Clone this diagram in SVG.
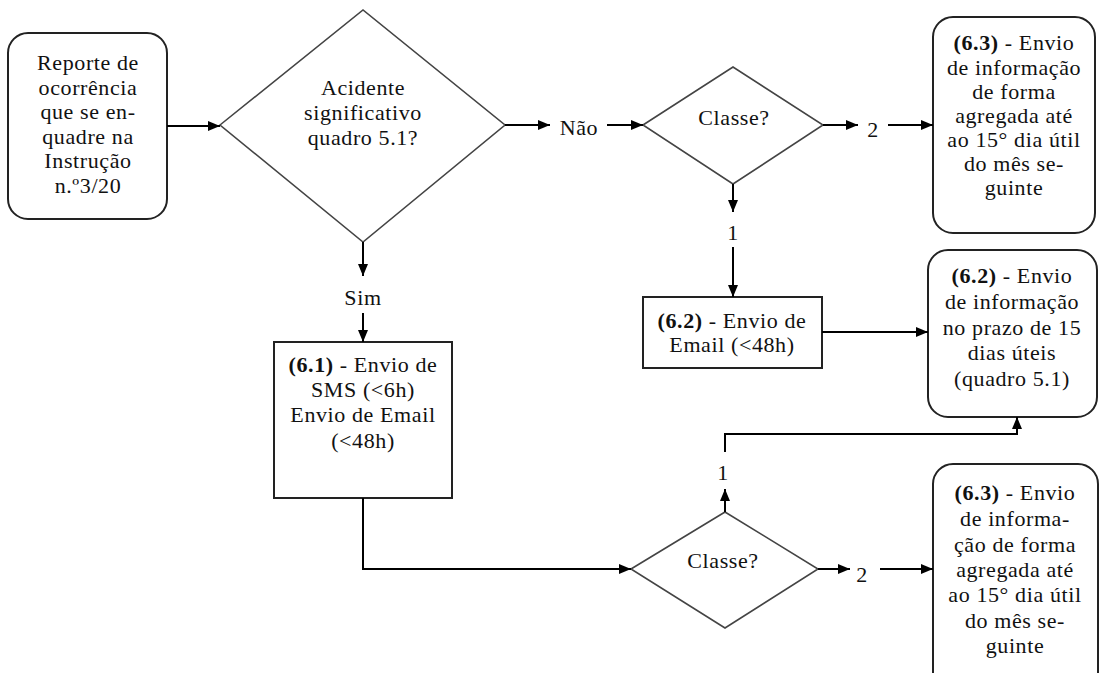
<svg xmlns="http://www.w3.org/2000/svg" width="1100" height="673" viewBox="0 0 1100 673" font-family="'Liberation Serif', 'DejaVu Serif', 'Noto Serif', serif">
<defs>
<marker id="ah" viewBox="0 0 12 10" refX="12" refY="5" markerWidth="12" markerHeight="10" markerUnits="userSpaceOnUse" orient="auto">
<path d="M0,0 L12,5 L0,10 Z" fill="#000"/>
</marker>
<style>
text{font-size:22px;letter-spacing:0.6px;fill:#111;text-anchor:middle}
.b{font-weight:bold}
.box{fill:#fff;stroke:#222;stroke-width:2}
.dia{fill:#fff;stroke:#444;stroke-width:1.6}
.c{fill:none;stroke:#000;stroke-width:2;marker-end:url(#ah)}
</style>
</defs>
<rect width="1100" height="673" fill="#fff"/>

<g id="n-reporte">
<rect class="box" x="8" y="33" width="159" height="186" rx="20"/>
<text x="88" y="70">Reporte de</text>
<text x="88" y="95">ocorrência</text>
<text x="88" y="119">que se en-</text>
<text x="88" y="144">quadre na</text>
<text x="88" y="168">Instrução</text>
<text x="88" y="193">n.º3/20</text>
</g>

<g id="n-acidente">
<polygon class="dia" points="220,125 363,10 505,125 363,242"/>
<text x="363" y="95">Acidente</text>
<text x="363" y="120">significativo</text>
<text x="363" y="145">quadro 5.1?</text>
</g>

<g id="n-classe1">
<polygon class="dia" points="643,125 733,67 823,125 733,184"/>
<text x="734" y="125">Classe?</text>
</g>

<g id="n-63a">
<rect class="box" x="933" y="17" width="162" height="216" rx="20"/>
<text x="1014" y="50"><tspan class="b">(6.3)</tspan> - Envio</text>
<text x="1014" y="75">de informação</text>
<text x="1014" y="99">de forma</text>
<text x="1014" y="123">agregada até</text>
<text x="1014" y="147">ao 15° dia útil</text>
<text x="1014" y="171">do mês se-</text>
<text x="1014" y="195">guinte</text>
</g>

<g id="n-62email">
<rect class="box" x="643" y="297" width="179" height="71"/>
<text x="732" y="328"><tspan class="b">(6.2)</tspan> - Envio de</text>
<text x="732" y="352">Email (&lt;48h)</text>
</g>

<g id="n-62info">
<rect class="box" x="928" y="250" width="169" height="167" rx="20"/>
<text x="1012" y="283"><tspan class="b">(6.2)</tspan> - Envio</text>
<text x="1012" y="309">de informação</text>
<text x="1012" y="335">no prazo de 15</text>
<text x="1012" y="360">dias úteis</text>
<text x="1012" y="386">(quadro 5.1)</text>
</g>

<g id="n-61">
<rect class="box" x="274" y="342" width="178" height="156"/>
<text x="363" y="372"><tspan class="b">(6.1)</tspan> - Envio de</text>
<text x="363" y="397">SMS (&lt;6h)</text>
<text x="363" y="422">Envio de Email</text>
<text x="363" y="448">(&lt;48h)</text>
</g>

<g id="n-classe2">
<polygon class="dia" points="631,569 725,512 818,569 725,628"/>
<text x="723" y="568">Classe?</text>
</g>

<g id="n-63b">
<rect class="box" x="933" y="464" width="165" height="230" rx="20"/>
<text x="1015" y="500"><tspan class="b">(6.3)</tspan> - Envio</text>
<text x="1015" y="526">de informa-</text>
<text x="1015" y="552">ção de forma</text>
<text x="1015" y="577">agregada até</text>
<text x="1015" y="602">ao 15° dia útil</text>
<text x="1015" y="628">do mês se-</text>
<text x="1015" y="653">guinte</text>
</g>

<g id="connectors">
<path class="c" d="M167,126 H220"/>
<path class="c" d="M505,125 H550"/>
<text x="579" y="135">Não</text>
<path class="c" d="M607,125 H643"/>
<path class="c" d="M823,125 H858"/>
<text x="873" y="137">2</text>
<path class="c" d="M888,125 H933"/>
<path class="c" d="M733,184 V212"/>
<text x="733" y="240">1</text>
<path class="c" d="M733,247 V297"/>
<path class="c" d="M822,332 H928"/>
<path class="c" d="M363,242 V276"/>
<text x="363" y="305">Sim</text>
<path class="c" d="M363,313 V342"/>
<path class="c" d="M363,498 V569 H631"/>
<path class="c" d="M725,512 V489"/>
<text x="723" y="480">1</text>
<path class="c" d="M725,452 V434 H1017 V417"/>
<path class="c" d="M818,569 H850"/>
<text x="862" y="582">2</text>
<path class="c" d="M880,569 H933"/>
</g>
</svg>
